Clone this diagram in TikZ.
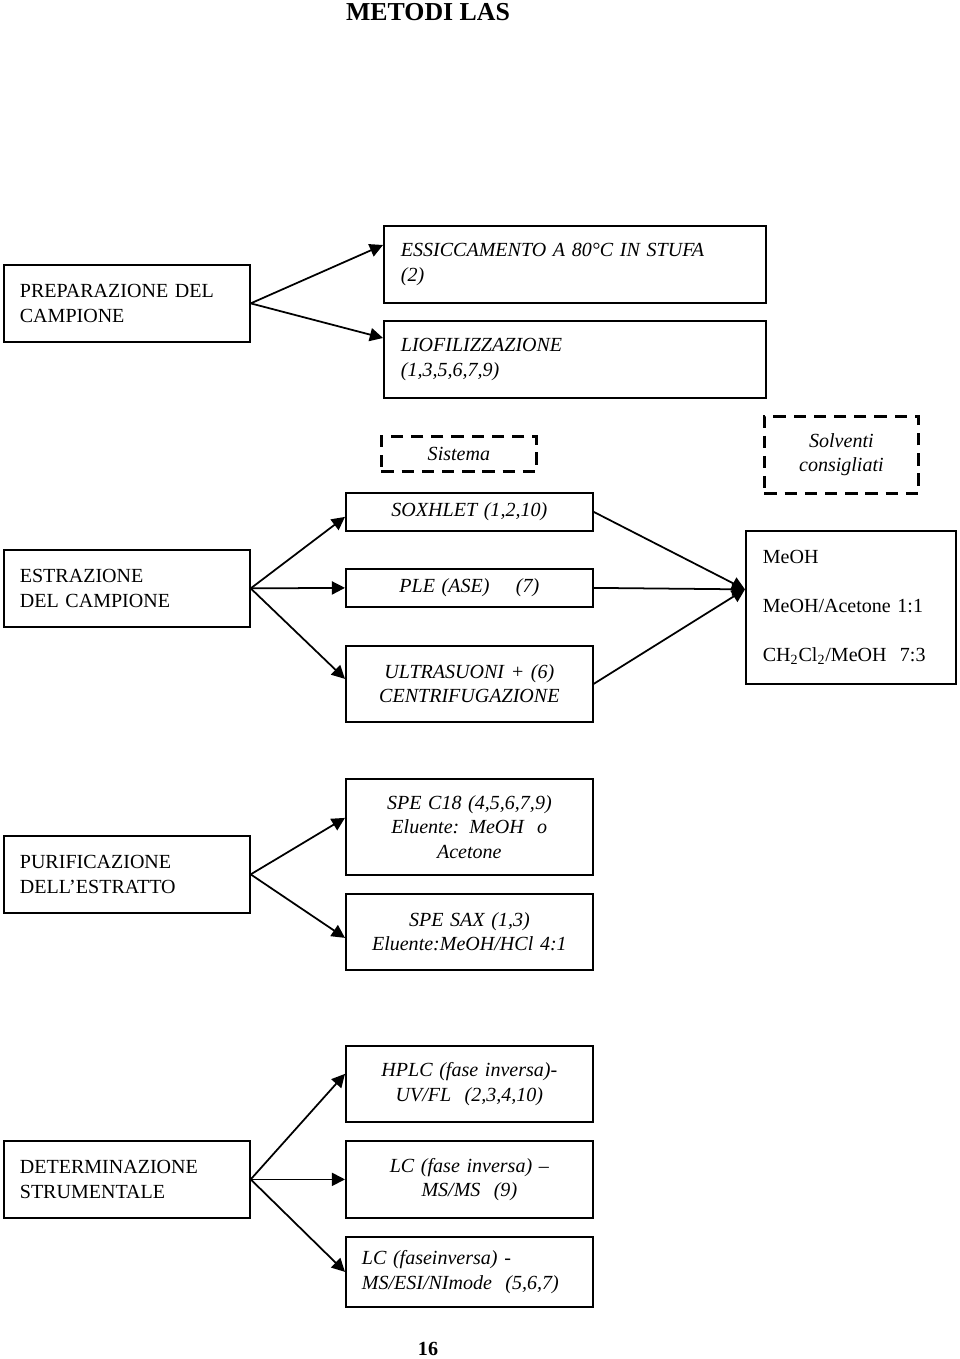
\documentclass[tikz,border=0pt]{standalone}
\usepackage{fontspec}
\setmainfont{Liberation Serif}
\usepackage{tikz}
\usetikzlibrary{arrows.meta,positioning}

\begin{document}
\begin{tikzpicture}[
    x=0.02cm, y=-0.02cm,
    every node/.style={font=\fontsize{11.4}{13.9}\selectfont},
    stepbox/.style={
        rectangle,
        draw,
        line width=1pt,
        anchor=north west,
        inner ysep=0pt,
        inner xsep=0.32cm,
        text width=4.28cm,
        minimum width=4.92cm,
        minimum height=1.54cm,
        align=left
    },
    method/.style={
        rectangle,
        draw,
        line width=1pt,
        anchor=north west,
        inner ysep=0pt,
        inner xsep=0.32cm,
        text width=4.30cm,
        minimum width=4.94cm,
        align=center,
        font=\fontsize{11.4}{13.9}\selectfont\itshape
    },
    wide/.style={
        method,
        inner xsep=0.34cm,
        text width=6.96cm,
        minimum width=7.64cm,
        minimum height=1.54cm,
        align=left
    },
    header/.style={
        rectangle,
        draw,
        dashed,
        dash pattern=on 7pt off 4.5pt,
        line width=1.6pt,
        anchor=north west,
        inner sep=0pt,
        align=center,
        font=\fontsize{11.4}{13.9}\selectfont\itshape
    },
    arrow/.style={-{Triangle[length=7.5pt,width=7.5pt]}, line width=1pt}
]

\useasboundingbox (0,0) rectangle (960,1359);

% Title and page number
\node[font=\fontsize{14.7}{17}\selectfont\bfseries] (title) at (428,12) {METODI LAS};
\node[font=\fontsize{11.4}{13.9}\selectfont\bfseries] (page) at (428,1349) {16};

% Phases
\node[stepbox] (prep) at (3,264) {PREPARAZIONE DEL\\CAMPIONE};
\node[stepbox] (estr) at (3,549) {ESTRAZIONE\\DEL CAMPIONE};
\node[stepbox] (purif) at (3,835) {PURIFICAZIONE\\DELL’ESTRATTO};
\node[stepbox] (determ) at (3,1140) {DETERMINAZIONE\\STRUMENTALE};

% Preparazione
\node[wide] (ess) at (383,225) {ESSICCAMENTO A 80°C IN STUFA\\(2)};
\node[wide] (liof) at (383,320) {LIOFILIZZAZIONE\\(1,3,5,6,7,9)};

% Estrazione
\node[header, minimum width=3.1cm, minimum height=0.7cm] (sistema) at (380,435) {Sistema};
\node[header, minimum width=3.08cm, minimum height=1.54cm] (solventi) at (763,415) {Solventi\\consigliati};
\node[method, minimum height=0.76cm] (sox) at (345,492) {SOXHLET (1,2,10)};
\node[method, minimum height=0.76cm] (ple) at (345,568) {PLE (ASE)\hspace{15pt}(7)};
\node[method, minimum height=1.52cm] (ultra) at (345,645) {ULTRASUONI + (6)\\CENTRIFUGAZIONE};
\node[stepbox, inner xsep=0.34cm, text width=3.52cm, minimum width=4.2cm, minimum height=3.06cm]
    (meoh) at (745,530) {MeOH\\[14pt]MeOH/Acetone 1:1\\[14pt]CH\textsubscript{2}Cl\textsubscript{2}/MeOH\ \ 7:3};

% Purificazione
\node[method, minimum height=1.92cm] (c18) at (345,778) {SPE C18 (4,5,6,7,9)\\Eluente: MeOH\ \ o\\Acetone};
\node[method, minimum height=1.52cm] (sax) at (345,893) {SPE SAX (1,3)\\Eluente:MeOH/HCl 4:1};

% Determinazione
\node[method, minimum height=1.52cm] (hplc) at (345,1045) {HPLC (fase inversa)-\\UV/FL\ \ (2,3,4,10)};
\node[method, minimum height=1.54cm] (lcms) at (345,1140) {LC (fase inversa) --\\MS/MS\ \ (9)};
\node[method, minimum height=1.4cm, align=left] (lcesi) at (345,1236) {LC (faseinversa) -\\MS/ESI/NImode\ \ (5,6,7)};

% Arrows
\draw[arrow] (prep.east) -- ([yshift=-0.4cm]ess.north west);
\draw[arrow] (prep.east) -- ([yshift=-0.36cm]liof.north west);

\draw[arrow] (estr.east) -- ([yshift=-0.1cm]sox.west);
\draw[arrow] (estr.east) -- (ple.west);
\draw[arrow] (estr.east) -- ([yshift=0.1cm]ultra.west);

\draw[arrow] (sox.east) -- ([yshift=0.36cm]meoh.west);
\draw[arrow] (ple.east) -- ([yshift=0.36cm]meoh.west);
\draw[arrow] (ultra.east) -- ([yshift=0.36cm]meoh.west);

\draw[arrow] (purif.east) -- ([yshift=0.18cm]c18.west);
\draw[arrow] (purif.east) -- ([yshift=-0.12cm]sax.west);

\draw[arrow] (determ.east) -- ([yshift=0.2cm]hplc.west);
\draw[arrow] (determ.east) -- (lcms.west);
\draw[arrow] (determ.east) -- (lcesi.west);

\end{tikzpicture}
\end{document}
